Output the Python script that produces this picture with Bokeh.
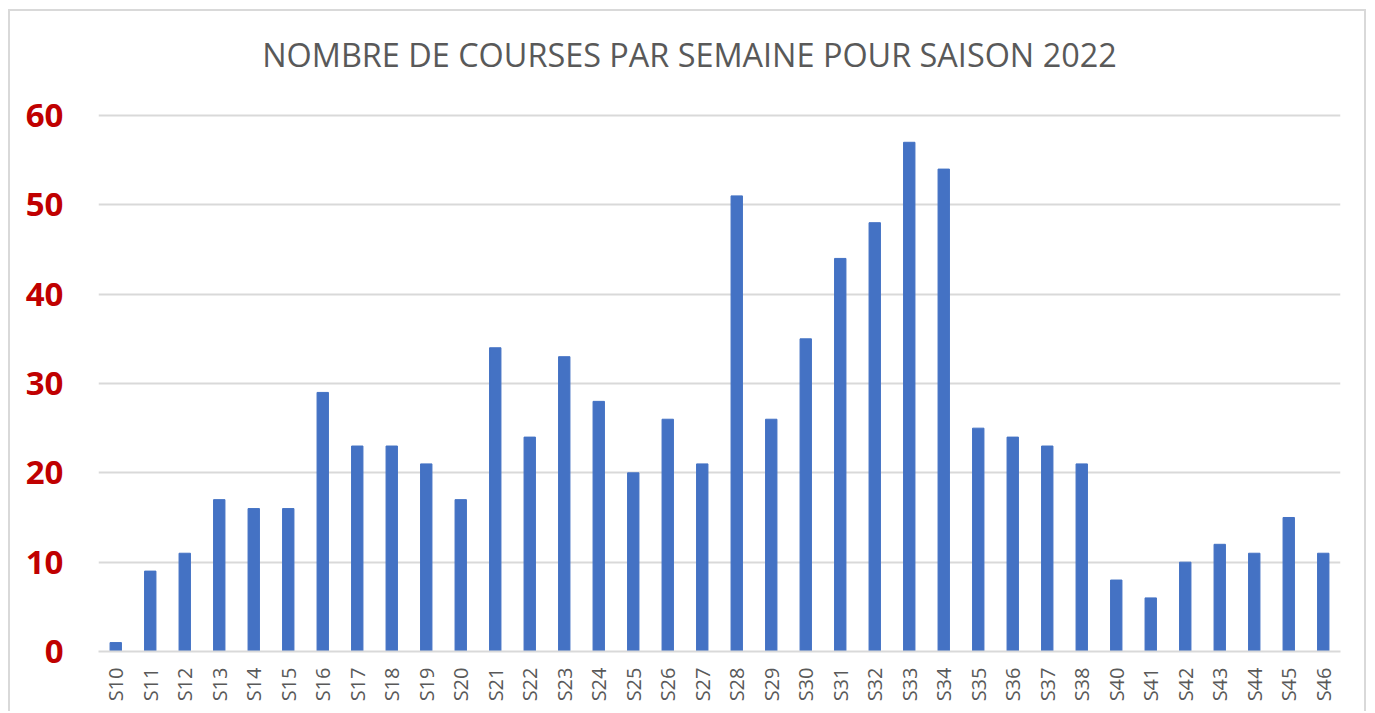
from bokeh.plotting import figure
from bokeh.models import FactorRange, Range1d, Label, FixedTicker
from bokeh.embed import file_html
from bokeh.resources import INLINE

weeks = ["S10", "S11", "S12", "S13", "S14", "S15", "S16", "S17", "S18", "S19",
         "S20", "S21", "S22", "S23", "S24", "S25", "S26", "S27", "S28", "S29",
         "S30", "S31", "S32", "S33", "S34", "S35", "S36", "S37", "S38", "S40",
         "S41", "S42", "S43", "S44", "S45", "S46"]
courses = [1, 9, 11, 17, 16, 16, 29, 23, 23, 21,
           17, 34, 24, 33, 28, 20, 26, 21, 51, 26,
           35, 44, 48, 57, 54, 25, 24, 23, 21, 8,
           6, 10, 12, 11, 15, 11]
y_ticks = [0, 10, 20, 30, 40, 50, 60]
title_text = "NOMBRE DE COURSES PAR SEMAINE POUR SAISON 2022"

W, H = 1358, 702
p = figure(width=W, height=H, output_backend="svg", toolbar_location=None,
           x_range=FactorRange(*weeks, range_padding=0),
           y_range=Range1d(0, 71.64),
           min_border_left=88, min_border_right=28, min_border_top=0,
           min_border_bottom=62)

# chart title placed in the empty space above the 60 gridline
p.add_layout(Label(x=17.13, y=66.9, text=title_text, text_font="Open Sans",
                   text_font_size="32.4px", text_color="#595959",
                   text_align="center", text_baseline="middle"))

p.vbar(x=weeks, top=courses, width=0.33, color="#4472C4")

p.outline_line_color = None
p.xgrid.grid_line_color = None
p.ygrid.grid_line_color = "#d9d9d9"
p.ygrid.grid_line_width = 2
p.yaxis.ticker = FixedTicker(ticks=y_ticks)

p.yaxis.axis_line_color = None
p.yaxis.major_tick_line_color = None
p.yaxis.major_tick_out = 0
p.yaxis.minor_tick_line_color = None
p.yaxis.major_label_standoff = 35
p.yaxis.major_label_text_font = "Open Sans"
p.yaxis.major_label_text_font_style = "bold"
p.yaxis.major_label_text_font_size = "33px"
p.yaxis.major_label_text_color = "#C00000"

p.xaxis.axis_line_color = "#d9d9d9"
p.xaxis.axis_line_width = 2
p.xaxis.major_tick_line_color = None
p.xaxis.major_tick_out = 0
p.xaxis.minor_tick_line_color = None
p.xaxis.major_label_orientation = 1.5708
p.xaxis.major_label_standoff = 16
p.xaxis.major_label_text_font = "Open Sans"
p.xaxis.major_label_text_font_size = "20px"
p.xaxis.major_label_text_color = "#595959"

p.styles = {"margin-left": "8px", "margin-top": "9px",
            "border": "2px solid #d9d9d9", "border-bottom": "none"}

open("out.html", "w").write(file_html(p, INLINE))
